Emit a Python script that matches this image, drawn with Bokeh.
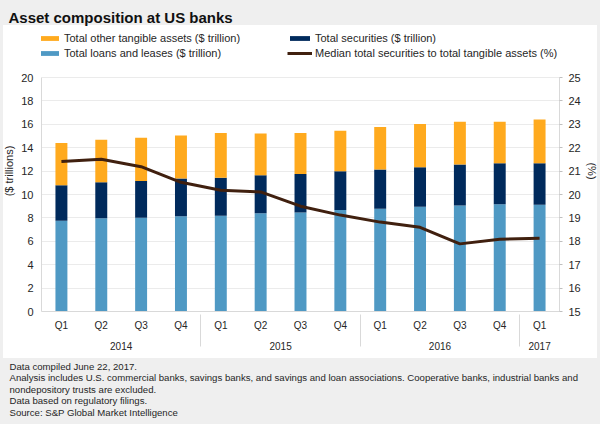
from bokeh.plotting import figure
from bokeh.models import (ColumnDataSource, FactorRange, Range1d, LinearAxis, Legend, LegendItem,
                          Title, FixedTicker)
from bokeh.embed import file_html
from bokeh.resources import INLINE

quarters = [("2014", "Q1"), ("2014", "Q2"), ("2014", "Q3"), ("2014", "Q4"),
            ("2015", "Q1"), ("2015", "Q2"), ("2015", "Q3"), ("2015", "Q4"),
            ("2016", "Q1"), ("2016", "Q2"), ("2016", "Q3"), ("2016", "Q4"),
            ("2017", "Q1")]
loans = [7.75, 7.96, 8.01, 8.15, 8.18, 8.39, 8.47, 8.67, 8.78, 8.95, 9.07, 9.16, 9.13]
securities = [3.05, 3.09, 3.15, 3.21, 3.26, 3.26, 3.29, 3.32, 3.35, 3.38, 3.49, 3.52, 3.55]
other = [3.60, 3.63, 3.69, 3.69, 3.81, 3.57, 3.49, 3.46, 3.64, 3.70, 3.66, 3.54, 3.74]
median_pct = [21.41, 21.51, 21.19, 20.52, 20.18, 20.11, 19.50, 19.12, 18.82, 18.60, 17.89, 18.09, 18.13]
left_ticks = [0, 2, 4, 6, 8, 10, 12, 14, 16, 18, 20]
right_ticks = [15, 16, 17, 18, 19, 20, 21, 22, 23, 24, 25]

title_text = "Asset composition at US banks"
legend_labels = ["Total other tangible assets ($ trillion)", "Total loans and leases ($ trillion)",
                 "Total securities ($ trillion)", "Median total securities to total tangible assets (%)"]
footer_lines = ["Data compiled June 22, 2017.",
                "Analysis includes U.S. commercial banks, savings banks, and savings and loan associations. Cooperative banks, industrial banks and",
                "nondepository trusts are excluded.",
                "Data based on regulatory filings.",
                "Source: S&P Global Market Intelligence"]

GRAY_BG = "#EFEFEF"
ORANGE = "#FFAA1E"
NAVY = "#002A5C"
BLUE = "#4F99C4"
BROWN = "#40200F"
TXT = "#262626"
FONT = "Liberation Sans"

# frame spans the legend area too; the value axes cover its lower 234 px
FRAME_TOP, FRAME_BOTTOM, PLOT_TOP = 30, 311, 77
stretch = (FRAME_BOTTOM - FRAME_TOP) / (FRAME_BOTTOM - PLOT_TOP)

src = ColumnDataSource(dict(x=quarters, loans=loans, securities=securities, other=other, pct=median_pct))

bg = ("linear-gradient(#ffffff, #ffffff) 3px 25px / 594px 333px no-repeat, " + GRAY_BG)
p = figure(x_range=FactorRange(factors=quarters, range_padding=0, factor_padding=0,
                               group_padding=0, subgroup_padding=0),
           y_range=Range1d(0, 20 * stretch), width=600, height=424, output_backend="svg",
           toolbar_location=None, min_border_left=40, min_border_right=40,
           min_border_top=FRAME_TOP, min_border_bottom=424 - FRAME_BOTTOM, border_fill_color=None,
           background_fill_color="white", outline_line_color=None,
           styles={"background": bg})
p.extra_y_ranges = {"pct": Range1d(15, 15 + 10 * stretch)}

bars = p.vbar_stack(["loans", "securities", "other"], x="x", width=0.3, source=src,
                    fill_color=[BLUE, NAVY, ORANGE], line_color=None)
ln = p.line(x="x", y="pct", source=src, y_range_name="pct", line_color=BROWN, line_width=3)

# left axis
ya = p.yaxis[0]
ya.ticker = FixedTicker(ticks=left_ticks)
ya.bounds = (0, 20)
ya.axis_label = "($ trillions)"
ya.axis_label_text_font = FONT
ya.axis_label_text_font_size = "11px"
ya.axis_label_text_font_style = "normal"
ya.axis_label_text_color = TXT
ya.axis_label_standoff = 3
ya.major_label_text_font = FONT
ya.major_label_text_font_size = "11px"
ya.major_label_text_color = TXT
ya.major_tick_line_color = None
ya.major_tick_out = 0
ya.minor_tick_line_color = None
ya.axis_line_color = "#D9D9D9"
ya.major_label_standoff = 8

# right axis
ra = LinearAxis(y_range_name="pct", ticker=FixedTicker(ticks=right_ticks), axis_label="(%)",
                bounds=(15, 25))
ra.axis_label_text_font = FONT
ra.axis_label_text_font_size = "11px"
ra.axis_label_text_font_style = "normal"
ra.axis_label_text_color = TXT
ra.axis_label_standoff = 2
ra.major_label_text_font = FONT
ra.major_label_text_font_size = "11px"
ra.major_label_text_color = TXT
ra.major_tick_line_color = "#BFBFBF"
ra.major_tick_out = 3
ra.major_tick_in = 0
ra.minor_tick_line_color = None
ra.axis_line_color = "#D9D9D9"
ra.major_label_standoff = 6
p.add_layout(ra, "right")

# bottom axis
xa = p.xaxis[0]
xa.major_label_text_font = FONT
xa.major_label_text_font_size = "10px"
xa.major_label_text_color = TXT
xa.group_text_font = FONT
xa.group_text_font_size = "10px"
xa.group_text_font_style = "normal"
xa.group_text_color = TXT
xa.major_tick_line_color = None
xa.major_tick_out = 0
xa.axis_line_color = "#D9D9D9"
xa.separator_line_color = "#D9D9D9"
xa.separator_line_width = 1
xa.major_label_standoff = 8

p.xgrid.grid_line_color = None
p.ygrid.grid_line_color = "#EBEBEB"

leg_style = dict(orientation="vertical", glyph_width=25, glyph_height=6, label_height=12,
                 label_standoff=3, spacing=3, padding=0, margin=0, border_line_color=None,
                 background_fill_alpha=0, label_text_font=FONT, label_text_font_size="11px",
                 label_text_color=TXT)
leg_bottom = FRAME_BOTTOM - 59
leg1 = Legend(items=[LegendItem(label=legend_labels[0], renderers=[bars[2]]),
                     LegendItem(label=legend_labels[1], renderers=[bars[0]])],
              location=(-5, leg_bottom), **leg_style)
leg2 = Legend(items=[LegendItem(label=legend_labels[2], renderers=[bars[1]]),
                     LegendItem(label=legend_labels[3], renderers=[ln])],
              location=(246, leg_bottom), **leg_style)
p.add_layout(leg1)
p.add_layout(leg2)

p.add_layout(Title(text=title_text, text_font=FONT, text_font_style="bold", text_font_size="15px",
                   text_color="#111111", align="left", offset=-33, standoff=9), "above")

# footer below the axis
p.add_layout(Title(text="\n".join(footer_lines), text_font=FONT, text_font_size="9.6px",
                   text_font_style="normal", text_color=TXT, align="left", offset=-32,
                   standoff=13, text_line_height=1.05), "below")

open("out.html", "w").write(file_html(p, INLINE))
